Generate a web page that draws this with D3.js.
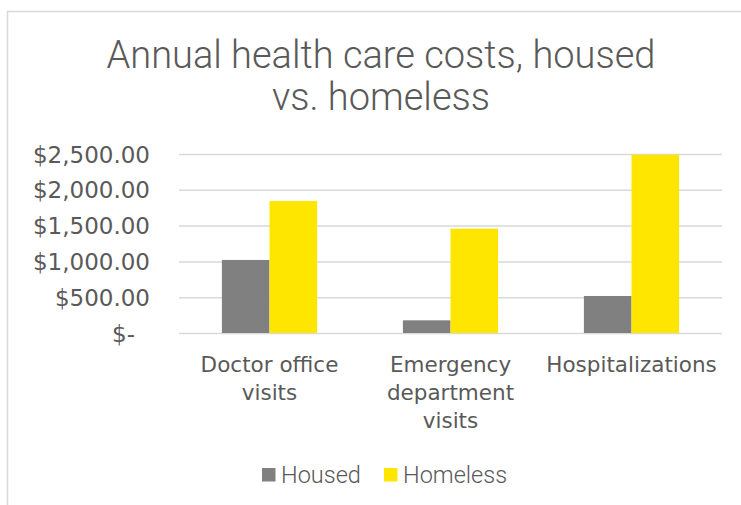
<!DOCTYPE html>
<html>
<head>
<meta charset="utf-8">
<script src="https://cdn.jsdelivr.net/npm/d3@7"></script>
<style>
  body { margin: 0; background: #fff; }
  svg { display: block; }
</style>
</head>
<body>
<div id="chart"></div>
<script>
// data
var categories = [["Doctor office", "visits"], ["Emergency", "department", "visits"], ["Hospitalizations"]]
var seriesNames = ["Housed", "Homeless"]
var housed = [1020, 177, 517]
var homeless = [1844, 1457, 2491]
var yTicks = [0, 500, 1000, 1500, 2000, 2500]
var yTickLabels = ["$-", "$500.00", "$1,000.00", "$1,500.00", "$2,000.00", "$2,500.00"]
var titleLines = ["Annual health care costs, housed", "vs. homeless"]

var colors = ["#808080", "#ffe600"]
var textColor = "#595959"

var width = 741, height = 505
var margin = {top: 154, right: 19, bottom: 172, left: 179}
var plotW = width - margin.left - margin.right,
    plotH = height - margin.top - margin.bottom

var svg = d3.select("#chart")
  .append("svg")
    .attr("width", width)
    .attr("height", height)

// chart border (left and top only are visible)
svg.append("path")
  .attr("d", "M7.5," + height + "V11.5H" + width)
  .attr("fill", "none")
  .attr("stroke", "#d9d9d9")
  .attr("stroke-width", 1.5)

// title
svg.append("text")
  .attr("x", 381)
  .attr("y", 68)
  .attr("text-anchor", "middle")
  .attr("fill", textColor)
  .style("font-family", "Roboto")
  .style("font-weight", 300)
  .style("font-size", "38px")
  .selectAll("tspan")
  .data(titleLines)
  .enter().append("tspan")
    .attr("x", 381)
    .attr("dy", function(d, i) { return i == 0 ? 0 : 42 })
    .text(function(d) { return d })

var g = svg.append("g")
  .attr("transform", "translate(" + margin.left + "," + margin.top + ")")

var x = d3.scaleBand().domain(d3.range(categories.length)).range([0, plotW]).paddingInner(0).paddingOuter(0)
var x1 = d3.scaleBand().domain(d3.range(seriesNames.length)).range([x.bandwidth() * 0.237, x.bandwidth() * 0.763])
var y = d3.scaleLinear().domain([0, 2500]).range([plotH, 0])

// gridlines
var yAxis = d3.axisLeft(y)
  .tickValues(yTicks)
  .tickSize(-plotW)
  .tickFormat(function(d, i) { return yTickLabels[i] })

var yg = g.append("g").call(yAxis)
yg.select(".domain").remove()
yg.selectAll(".tick line")
  .attr("stroke", "#d9d9d9")
  .attr("stroke-width", 1.5)
yg.selectAll(".tick text")
  .attr("x", -29)
  .attr("dy", "0.35em")
  .attr("fill", textColor)
  .style("font-family", "DejaVu Sans")
  .style("font-size", "23px")
  .filter(function(d) { return d == 0 })
    .attr("x", -44)

// bars
var seriesData = [housed, homeless]
var groups = g.selectAll(".series")
  .data(seriesData)
  .enter().append("g")
    .attr("class", "series")
    .attr("fill", function(d, i) { return colors[i] })

groups.each(function(vals, si) {
  d3.select(this).selectAll("rect")
    .data(vals)
    .enter().append("rect")
      .attr("x", function(d, ci) { return x(ci) + x1(si) })
      .attr("width", x1.bandwidth())
      .attr("y", function(d) { return y(d) })
      .attr("height", function(d) { return plotH - y(d) })
})

// category labels
var xAxis = d3.axisBottom(x).tickSize(0).tickFormat("")
var xg = g.append("g").attr("transform", "translate(0," + plotH + ")").call(xAxis)
xg.select(".domain").remove()
xg.selectAll(".tick").append("text")
  .attr("text-anchor", "middle")
  .attr("fill", textColor)
  .style("font-family", "DejaVu Sans")
  .style("font-size", "21.5px")
  .each(function(d) {
    d3.select(this).selectAll("tspan")
      .data(categories[d])
      .enter().append("tspan")
        .attr("x", 0)
        .attr("y", function(t, i) { return 39 + i * 28 })
        .text(function(t) { return t })
  })

// legend
var legend = svg.append("g").attr("transform", "translate(262,468)")
var legendX = [0, 122]
var items = legend.selectAll(".item")
  .data(seriesNames)
  .enter().append("g")
    .attr("transform", function(d, i) { return "translate(" + legendX[i] + ",0)" })
items.append("rect")
  .attr("width", 13.5)
  .attr("height", 13.5)
  .attr("fill", function(d, i) { return colors[i] })
items.append("text")
  .attr("x", 19)
  .attr("y", 14.5)
  .attr("fill", textColor)
  .style("font-family", "Roboto")
  .style("font-weight", 300)
  .style("font-size", "23.5px")
  .text(function(d) { return d })
</script>
</body>
</html>
